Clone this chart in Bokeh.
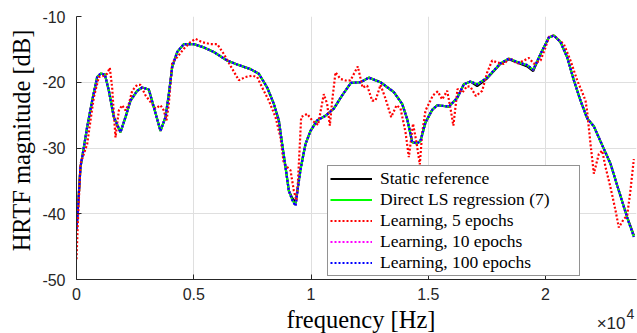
import math
from bokeh.plotting import figure
from bokeh.layouts import row, column
from bokeh.models import Range1d, FixedTicker, Legend, LegendItem
from bokeh.core.properties import value
from bokeh.embed import file_html
from bokeh.resources import INLINE

# frequency grid (Hz) for the smooth curves
freq = [0, 55, 170, 313, 455, 668, 882, 1023, 1208, 1380, 1592, 1876, 2090, 2303,
        2587, 2800, 3085, 3298, 3582, 3795, 3937, 4080, 4293, 4577, 5003, 5430,
        5856, 6425, 6852, 7420, 7775, 8131, 8415, 8628, 8770, 8913, 9055, 9197,
        9340, 9552, 9765, 9979, 10263, 10618, 10973, 11329, 11700, 12111, 12466,
        12964, 13532, 13888, 14102, 14315, 14528, 14670, 14883, 15168, 15381,
        15878, 16233, 16518, 16802, 17086, 17513, 18081, 18436, 18792, 19219,
        19475, 19787, 20142, 20355, 20640, 20924, 21208, 21493, 21777, 22061,
        22345, 22772, 23127, 23483, 23767]

ref_db = [-42.3, -39.5, -32.9, -29.9, -26.8, -22.8, -19.2, -18.7, -18.8, -21.3,
          -25.3, -27.6, -25.3, -22.8, -21.3, -20.8, -21.1, -23.8, -27.4, -25.3,
          -21.8, -17.7, -15.4, -14.2, -14.2, -14.7, -15.4, -16.7, -17.3, -18.0,
          -18.7, -20.8, -23.3, -25.8, -29.4, -32.9, -36.5, -37.6, -38.3, -33.2,
          -29.4, -27.4, -25.8, -25.1, -24.0, -22.0, -20.1, -20.0, -19.3, -20.0,
          -21.5, -23.3, -25.6, -29.1, -29.3, -28.9, -26.1, -24.2, -23.5, -23.7,
          -22.4, -20.3, -19.9, -20.6, -19.4, -17.2, -16.5, -17.0, -17.6, -18.3,
          -15.7, -13.2, -12.9, -13.9, -16.2, -19.7, -22.8, -25.5, -26.7, -29.0,
          -32.4, -36.5, -40.5, -43.3]

ls_db = [-42.3, -39.5, -32.9, -29.9, -26.8, -22.8, -19.2, -18.7, -18.8, -21.3,
         -25.3, -27.6, -25.3, -22.8, -21.3, -20.8, -21.1, -23.8, -27.4, -25.3,
         -21.8, -17.7, -15.4, -14.2, -14.2, -14.7, -15.4, -16.7, -17.3, -18.0,
         -18.7, -20.8, -23.3, -25.8, -29.4, -32.9, -36.5, -37.9, -38.7, -33.3,
         -29.4, -27.4, -25.8, -25.1, -24.0, -22.0, -20.1, -20.0, -19.3, -20.0,
         -21.5, -23.3, -25.6, -29.1, -29.3, -28.9, -26.1, -24.2, -23.5, -23.7,
         -22.4, -20.3, -19.9, -20.3, -19.3, -17.1, -16.4, -16.9, -17.4, -18.1,
         -15.7, -13.2, -12.9, -13.9, -16.2, -19.7, -22.8, -25.5, -26.7, -29.0,
         -32.4, -36.5, -40.6, -43.5]

ep10_db = [-42.3, -39.5, -32.9, -29.9, -26.8, -22.8, -19.2, -18.7, -18.8, -21.3,
           -25.3, -27.6, -25.3, -22.8, -21.3, -20.8, -21.1, -23.8, -27.4, -25.3,
           -21.8, -17.7, -15.4, -14.2, -14.2, -14.7, -15.4, -16.7, -17.3, -18.0,
           -18.7, -20.8, -23.3, -25.8, -29.4, -32.9, -36.5, -37.9, -38.8, -33.3,
           -29.4, -27.4, -25.8, -25.1, -24.0, -22.0, -20.1, -20.0, -19.3, -20.0,
           -21.5, -23.3, -25.6, -29.1, -29.3, -28.9, -26.1, -24.2, -23.5, -23.7,
           -22.4, -20.3, -19.9, -20.3, -19.3, -17.1, -16.4, -16.9, -17.4, -18.1,
           -15.7, -13.2, -12.9, -13.9, -16.2, -19.7, -22.8, -25.5, -26.7, -29.0,
           -32.4, -36.5, -40.6, -43.5]

ep100_db = [-42.3, -39.5, -32.9, -29.9, -26.8, -22.8, -19.2, -18.7, -18.8, -21.3,
            -25.3, -27.6, -25.3, -22.8, -21.3, -20.8, -21.1, -23.8, -27.4, -25.3,
            -21.8, -17.7, -15.4, -14.2, -14.2, -14.7, -15.4, -16.7, -17.3, -18.0,
            -18.7, -20.8, -23.3, -25.8, -29.4, -32.9, -36.5, -37.9, -38.8, -33.3,
            -29.4, -27.4, -25.8, -25.1, -24.0, -22.0, -20.1, -20.0, -19.3, -20.0,
            -21.5, -23.3, -25.6, -29.1, -29.3, -28.9, -26.1, -24.2, -23.5, -23.7,
            -22.4, -20.3, -19.9, -20.3, -19.3, -17.1, -16.4, -16.9, -17.4, -18.1,
            -15.7, -13.2, -12.9, -13.9, -16.2, -19.7, -22.8, -25.5, -26.7, -29.0,
            -32.4, -36.5, -40.6, -43.5]

# 5-epoch learning curve, own frequency grid
freq5 = [0, 55, 170, 313, 455, 597, 739, 952, 1165, 1307, 1421, 1520, 1592, 1663,
         1805, 1947, 2090, 2232, 2374, 2587, 2729, 2942, 3156, 3369, 3582, 3724,
         3838, 3937, 4080, 4293, 4577, 4861, 5075, 5359, 5714, 6000, 6283, 6567,
         6922, 7207, 7491, 7704, 7917, 8202, 8486, 8699, 8841, 8984, 9126, 9268,
         9382, 9438, 9524, 9580, 9836, 10049, 10300, 10547, 10689, 10803, 10903,
         11045, 11258, 11543, 11684, 11996, 12200, 12395, 12608, 12750, 12964,
         13177, 13420, 13650, 13817, 14030, 14172, 14350, 14500, 14640, 14741,
         14883, 15200, 15400, 15594, 15807, 15949, 16070, 16250, 16447, 16650,
         16802, 17030, 17299, 17513, 17726, 17939, 18223, 18479, 18792, 19076,
         19289, 19503, 19787, 20000, 20142, 20355, 20782, 21066, 21350, 21564,
         21706, 21777, 21919, 22061, 22274, 22417, 22559, 22772, 22985, 23127,
         23340, 23483, 23620, 23767]

ep5_db = [-46.9, -41.5, -32.4, -30.9, -29.4, -25.8, -22.3, -19.2, -19.0, -18.7,
          -17.8, -20.8, -24.8, -28.4, -24.3, -23.5, -24.3, -23.3, -21.3, -20.4,
          -20.4, -22.0, -23.0, -24.0, -23.5, -24.3, -25.8, -23.3, -17.0, -16.2,
          -14.9, -13.9, -13.4, -13.9, -14.2, -14.2, -15.7, -17.5, -19.7, -19.2,
          -19.0, -19.2, -20.8, -22.8, -25.3, -28.4, -32.4, -32.9, -33.4, -36.5,
          -38.0, -35.5, -29.4, -25.3, -24.8, -25.8, -26.5, -21.8, -23.3, -26.6,
          -22.8, -18.5, -19.5, -19.8, -19.7, -17.6, -20.8, -20.5, -22.8, -22.8,
          -20.4, -22.5, -25.3, -23.5, -24.0, -27.6, -31.4, -26.3, -29.2, -32.5,
          -27.7, -24.3, -22.0, -21.4, -22.6, -21.3, -24.0, -26.6, -21.0, -21.6,
          -20.6, -20.7, -22.1, -21.3, -18.5, -16.7, -17.0, -17.2, -16.3, -17.2,
          -16.7, -16.3, -17.2, -16.7, -14.7, -13.1, -12.9, -14.2, -16.7, -19.7,
          -21.5, -22.8, -24.5, -29.4, -33.9, -30.9, -30.4, -32.9, -36.0, -39.5,
          -42.1, -40.8, -40.3, -36.5, -31.7]

x_ticks = [0, 5000, 10000, 15000, 20000]
x_tick_labels = ["0", "0.5", "1", "1.5", "2"]
y_ticks = [-50, -40, -30, -20, -10]
y_tick_labels = ["-50", "-40", "-30", "-20", "-10"]
x_label = "frequency [Hz]"
y_label = "HRTF magnitude [dB]"
x_scale_text = "×10"
x_scale_exp = "4"

AX = "#262626"
X_RANGE = Range1d(0, 23880)

# ---------------- main plot ----------------
p = figure(width=601, height=306, output_backend="svg", toolbar_location=None,
           title=None, x_range=X_RANGE, y_range=Range1d(-50, -10),
           min_border_left=40, min_border_right=1, min_border_top=16,
           min_border_bottom=27)
p.outline_line_color = None
p.background_fill_color = "white"

for ax in (p.xaxis[0], p.yaxis[0]):
    ax.axis_line_color = AX
    ax.axis_line_width = 1
    ax.major_tick_line_color = AX
    ax.major_tick_in = 5
    ax.major_tick_out = 0
    ax.minor_tick_in = 0
    ax.minor_tick_out = 0
    ax.major_label_text_font = "Liberation Sans"
    ax.major_label_text_font_size = "16px"
    ax.major_label_text_color = AX

p.xaxis.ticker = FixedTicker(ticks=x_ticks)
p.xaxis.major_label_overrides = dict(zip(x_ticks, x_tick_labels))
p.yaxis.ticker = FixedTicker(ticks=y_ticks)
p.yaxis.major_label_overrides = dict(zip(y_ticks, y_tick_labels))
p.xaxis.major_label_standoff = 8
p.yaxis.major_label_standoff = 11

for g in (p.xgrid[0], p.ygrid[0]):
    g.grid_line_color = "#dfdfdf"
    g.grid_line_width = 1

r_ref = p.line(freq, ref_db, line_color="black", line_width=2.2)
r_ls = p.line(freq, ls_db, line_color="#00ff00", line_width=2.2)
r_5 = p.line(freq5, ep5_db, line_color="#ff0000", line_width=2.2, line_dash="2 2")
r_10 = p.line(freq, ep10_db, line_color="#ff00ff", line_width=2.2, line_dash="2 2")
r_100 = p.line(freq, ep100_db, line_color="#0000ff", line_width=2.2, line_dash="2 2")

legend = Legend(items=[
    LegendItem(label="Static reference", renderers=[r_ref]),
    LegendItem(label="Direct LS regression (7)", renderers=[r_ls]),
    LegendItem(label="Learning, 5 epochs", renderers=[r_5]),
    LegendItem(label="Learning, 10 epochs", renderers=[r_10]),
    LegendItem(label="Learning, 100 epochs", renderers=[r_100]),
], location=(251, 3))
legend.margin = 0
legend.padding = 2
legend.spacing = 0
legend.glyph_width = 42
legend.glyph_height = 21
legend.label_height = 21
legend.label_width = 197
legend.label_standoff = 8
legend.label_text_font = "Liberation Serif"
legend.label_text_font_size = "17.5px"
legend.label_text_color = "black"
legend.border_line_color = AX
legend.border_line_width = 1
legend.background_fill_color = "white"
legend.background_fill_alpha = 1
p.add_layout(legend)

# ---------------- x label strip (below) ----------------
b = figure(width=601, height=27, output_backend="svg", toolbar_location=None,
           title=None, x_range=X_RANGE, y_range=Range1d(0, 27),
           min_border_left=40, min_border_right=1, min_border_top=0,
           min_border_bottom=0, x_axis_type=None, y_axis_type=None)
b.outline_line_color = None
b.grid.visible = False
b.text(x=[12132], y=[14.3], text=[x_label], text_align="center",
       text_baseline="middle", text_font=value("Liberation Serif"),
       text_font_size="24.5px", text_color="black")
b.text(x=[X_RANGE.end], y=[9.9], text=[x_scale_text], text_align="right",
       text_baseline="middle", x_offset=-11, text_font=value("Liberation Sans"),
       text_font_size="17px", text_color=AX)
b.text(x=[X_RANGE.end], y=[19.6], text=[x_scale_exp], text_align="left",
       text_baseline="middle", x_offset=-10, text_font=value("Liberation Sans"),
       text_font_size="14px", text_color=AX)

# ---------------- y label strip (left) ----------------
l = figure(width=36, height=333, output_backend="svg", toolbar_location=None,
           title=None, x_range=Range1d(0, 36), y_range=Range1d(0, 333),
           min_border=0, x_axis_type=None, y_axis_type=None)
l.outline_line_color = None
l.grid.visible = False
l.text(x=[21.2], y=[193], text=[y_label], angle=math.pi / 2, text_align="center",
       text_baseline="middle", text_font=value("Liberation Serif"),
       text_font_size="24.5px", text_color="black")

layout = row(l, column(p, b, spacing=0), spacing=0)
open("out.html", "w").write(file_html(layout, INLINE))
